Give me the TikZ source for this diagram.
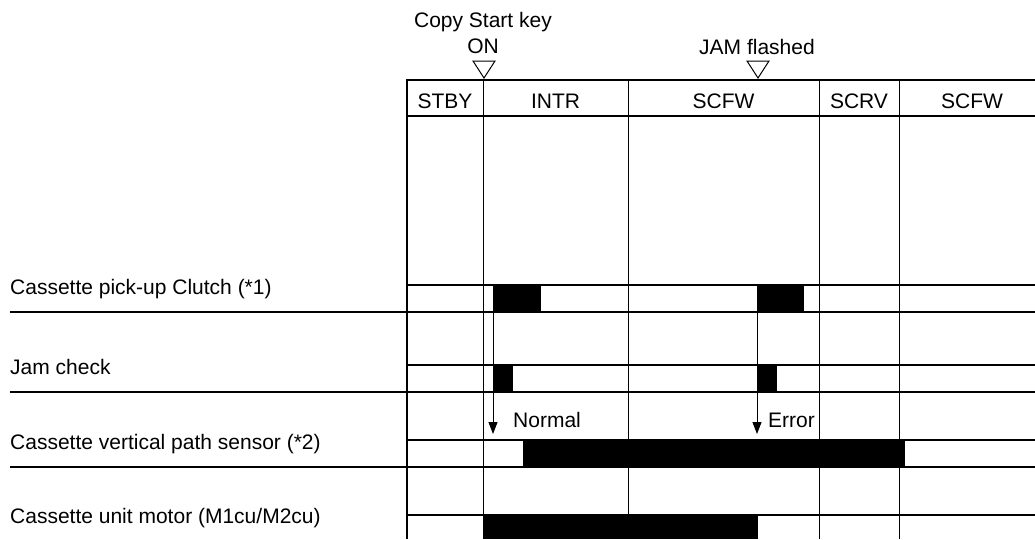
\documentclass[tikz,border=0pt]{standalone}
\usepackage{fontspec}
\setmainfont{Liberation Sans}
\usetikzlibrary{arrows.meta}
\begin{document}
\begin{tikzpicture}[x=1pt,y=-1pt,
  lbl/.style={inner sep=0pt, font=\fontsize{21}{25}\selectfont},
  hline/.style={line width=2pt},
  vline/.style={line width=1pt},
  bar/.style={fill=black},
  sig/.style={line width=1pt, -{Triangle[length=12pt,width=9pt]}},
  marktri/.style={line width=1pt, fill=white, line join=miter}
]
\useasboundingbox (0,0) rectangle (1035,539);

% signal bars
\fill[bar] (493,285) rectangle (541,312);
\fill[bar] (757,285) rectangle (804,312);
\fill[bar] (493,365) rectangle (513,392);
\fill[bar] (757,365) rectangle (777,392);
\fill[bar] (523,440) rectangle (905,467);
\fill[bar] (483,515) rectangle (758,539);

% vertical grid lines
\draw[hline] (407,79) -- (407,539);
\foreach \x in {483,628,819,899} \draw[vline] (\x,80) -- (\x,539);

% horizontal lines
\draw[hline] (406,80) -- (1035,80);
\draw[hline] (406,116) -- (1035,116);
\foreach \y in {285,365,440,515} \draw[hline] (406,\y) -- (1035,\y);
\foreach \y in {312,392,467} \draw[hline] (10,\y) -- (1035,\y);

% header labels
\node[lbl, anchor=base] (stby) at (445,108) {STBY};
\node[lbl, anchor=base] (intr) at (555.5,108) {INTR};
\node[lbl, anchor=base] (scfw) at (723.5,108) {SCFW};
\node[lbl, anchor=base] (scrv) at (859,108) {SCRV};
\node[lbl, anchor=base] (scfwb) at (972,108) {SCFW};

% event markers
\node[lbl, anchor=base] (copy) at (483,27) {Copy Start key};
\node[lbl, anchor=base] (on) at (483,53) {ON};
\node[lbl, anchor=base] (jam) at (757,54) {JAM flashed};
\draw[marktri] (473,61) -- (495,61) -- (484,78) -- cycle;
\draw[marktri] (747,61) -- (769,61) -- (758,78) -- cycle;

% row labels
\node[lbl, anchor=base west] (l1) at (10,294) {Cassette pick-up Clutch (*1)};
\node[lbl, anchor=base west] (l2) at (10,374) {Jam check};
\node[lbl, anchor=base west] (l3) at (10,449) {Cassette vertical path sensor (*2)};
\node[lbl, anchor=base west] (l4) at (10,523) {Cassette unit motor (M1cu/M2cu)};

% check arrows
\coordinate (na) at (493,312);
\coordinate (nb) at (493,434);
\coordinate (ea) at (757,312);
\coordinate (eb) at (757,434);
\draw[sig] (na) -- (nb);
\draw[sig] (ea) -- (eb);
\node[lbl, anchor=base west] (normal) at (513,427) {Normal};
\node[lbl, anchor=base west] (error) at (768,427) {Error};
\end{tikzpicture}
\end{document}
